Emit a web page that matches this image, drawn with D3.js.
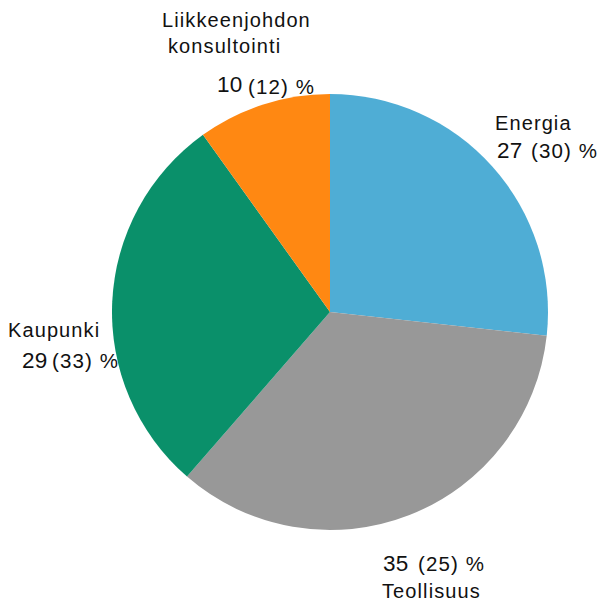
<!DOCTYPE html>
<html><head><meta charset="utf-8">
<script src="https://cdn.jsdelivr.net/npm/d3@7"></script>
<style>body{margin:0;background:#fff}</style>
</head><body>
<svg id="c" width="606" height="605"></svg>
<script>
const categories = ["Energia", "Teollisuus", "Kaupunki", "Liikkeenjohdon konsultointi"];
const values = [27, 35, 29, 10];
const previous = [30, 25, 33, 12];
const colors = ["#4FADD5", "#989898", "#0A906A", "#FF8812"];

const svg = d3.select("#c");
const cx = 330, cy = 312, r = 218;
const g = svg.append("g").attr("transform", `translate(${cx},${cy})`);
const pie = d3.pie().sort(null).value(d => d.v);
const data = categories.map((c, i) => ({c, v: values[i], p: previous[i], col: colors[i]}));
const arcs = pie(data);
const arc = d3.arc().innerRadius(0).outerRadius(r);
g.selectAll("path").data(arcs).enter().append("path")
  .attr("d", arc).attr("fill", d => d.data.col).attr("stroke", "none");

const labelPos = [
  {names: [[495, 130]], num: [497, 158], par: [531, 158]},
  {names: [[382, 598]], num: [383, 571], par: [418, 571]},
  {names: [[8, 337]], num: [22, 368], par: [52, 368]},
  {names: [[162, 27], [168, 53]], num: [217, 92], par: [248, 94]}
];
const nameLines = [["Energia"], ["Teollisuus"], ["Kaupunki"], ["Liikkeenjohdon", "konsultointi"]];
const font = "Liberation Sans, Arial, sans-serif";
arcs.forEach((a, i) => {
  const lp = labelPos[i];
  nameLines[i].forEach((t, j) => {
    svg.append("text").attr("x", lp.names[j][0]).attr("y", lp.names[j][1])
      .attr("font-family", font).attr("font-size", 20).attr("letter-spacing", 1.1)
      .attr("fill", "#111").text(t);
  });
  svg.append("text").attr("x", lp.num[0]).attr("y", lp.num[1])
    .attr("font-family", font).attr("font-size", 22.5).attr("letter-spacing", 0.3)
    .attr("fill", "#111").text(a.data.v);
  svg.append("text").attr("x", lp.par[0]).attr("y", lp.par[1])
    .attr("font-family", font).attr("font-size", 20.5).attr("letter-spacing", 1.1)
    .attr("fill", "#111").text("(" + a.data.p + ") %");
});
</script>
</body></html>
